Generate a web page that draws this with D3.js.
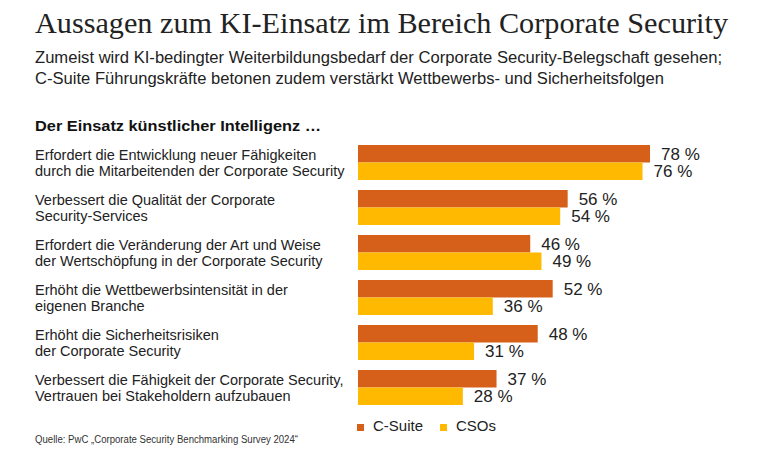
<!DOCTYPE html>
<html><head><meta charset="utf-8">
<script src="https://cdn.jsdelivr.net/npm/d3@7"></script>
<style>
html,body{margin:0;padding:0;background:#fff;}
svg{display:block;}
</style></head>
<body>
<script>
const categories = [
  ["Erfordert die Entwicklung neuer Fähigkeiten", "durch die Mitarbeitenden der Corporate Security"],
  ["Verbessert die Qualität der Corporate", "Security-Services"],
  ["Erfordert die Veränderung der Art und Weise", "der Wertschöpfung in der Corporate Security"],
  ["Erhöht die Wettbewerbsintensität in der", "eigenen Branche"],
  ["Erhöht die Sicherheitsrisiken", "der Corporate Security"],
  ["Verbessert die Fähigkeit der Corporate Security,", "Vertrauen bei Stakeholdern aufzubauen"]
];
const seriesNames = ["C-Suite", "CSOs"];
const cSuite = [78, 56, 46, 52, 48, 37];
const csos = [76, 54, 49, 36, 31, 28];
const colors = ["#d6601a", "#ffb900"];

const W = 760, H = 466;
const svg = d3.select("body").append("svg").attr("width", W).attr("height", H);
const sans = "'Liberation Sans', Arial, sans-serif";

function fit(sel, w) {
  if (w) sel.attr("textLength", w).attr("lengthAdjust", "spacingAndGlyphs");
}

// Title
const t = svg.append("text").attr("x", 35).attr("y", 33)
  .attr("font-family", "'Liberation Serif', 'DejaVu Serif', serif")
  .attr("font-size", 29.5).attr("fill", "#222")
  .text("Aussagen zum KI-Einsatz im Bereich Corporate Security");
fit(t, 693);

const s1 = svg.append("text").attr("x", 35).attr("y", 63)
  .attr("font-family", sans).attr("font-size", 16).attr("fill", "#222")
  .text("Zumeist wird KI-bedingter Weiterbildungsbedarf der Corporate Security-Belegschaft gesehen;");
fit(s1, 687);
const s2 = svg.append("text").attr("x", 35).attr("y", 84)
  .attr("font-family", sans).attr("font-size", 16).attr("fill", "#222")
  .text("C-Suite Führungskräfte betonen zudem verstärkt Wettbewerbs- und Sicherheitsfolgen");
fit(s2, 629);

const hd = svg.append("text").attr("x", 35).attr("y", 131)
  .attr("font-family", sans).attr("font-size", 15.5).attr("font-weight", "bold").attr("fill", "#111")
  .text("Der Einsatz künstlicher Intelligenz …");
fit(hd, 286);

const y = d3.scaleBand().domain(d3.range(categories.length))
  .range([145, 405]).paddingInner(10 / 45).paddingOuter(0);
const ys = d3.scaleBand().domain([0, 1]).range([0, y.bandwidth()]).padding(0);
const x = d3.scaleLinear().domain([0, 100]).range([358, 358 + 374.4]);

const g = svg.append("g");
const groups = g.selectAll("g.grp").data(categories.map((c, i) => ({c, i, vals: [cSuite[i], csos[i]]})))
  .join("g").attr("class", "grp").attr("transform", d => `translate(0,${y(d.i)})`);

groups.each(function(d) {
  const gg = d3.select(this);
  d.c.forEach((line, k) => {
    gg.append("text").attr("x", 35).attr("y", 15 + k * 15.5)
      .attr("font-family", sans).attr("font-size", 14.5).attr("fill", "#222")
      .text(line);
  });
  d.vals.forEach((v, s) => {
    gg.append("rect").attr("x", x(0)).attr("y", ys(s))
      .attr("width", x(v) - x(0)).attr("height", ys.bandwidth())
      .attr("fill", colors[s]);
    gg.append("text").attr("x", x(v) + 11).attr("y", ys(s) + ys.bandwidth() / 2 + 6)
      .attr("font-family", sans).attr("font-size", 17).attr("fill", "#222")
      .text(v + " %");
  });
});

// Legend
const leg = svg.append("g");
const legX = [357, 440];
seriesNames.forEach((n, i) => {
  leg.append("rect").attr("x", legX[i]).attr("y", 424).attr("width", 7).attr("height", 7).attr("fill", colors[i]);
  leg.append("text").attr("x", legX[i] + 16).attr("y", 431)
    .attr("font-family", sans).attr("font-size", 15).attr("fill", "#222").text(n);
});

const src = svg.append("text").attr("x", 35).attr("y", 443)
  .attr("font-family", sans).attr("font-size", 10).attr("fill", "#333")
  .text("Quelle: PwC „Corporate Security Benchmarking Survey 2024“");
fit(src, 263);
</script>
</body></html>
